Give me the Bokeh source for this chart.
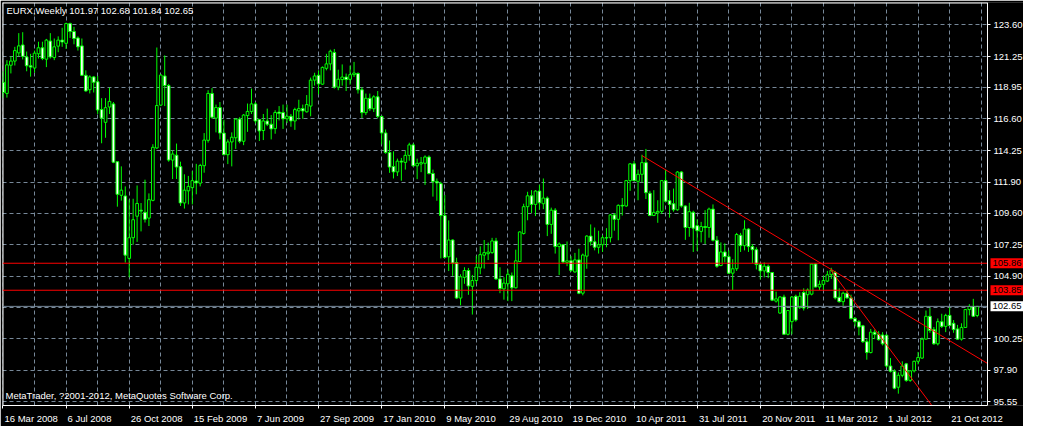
from bokeh.plotting import figure
from bokeh.models import (ColumnDataSource, Range1d, FixedTicker, Label, BoxAnnotation,
                          NumeralTickFormatter)
from bokeh.embed import file_html
from bokeh.resources import INLINE

# ---------------- data ----------------
title_text = "EURX,Weekly  101.97 102.68 101.84 102.65"
copyright_text = "MetaTrader, ?2001-2012, MetaQuotes Software Corp."

# weekly candles, first bar = 16 Mar 2008
opens = [119.33,118.50,120.60,120.91,121.52,122.11,121.22,120.56,120.39,121.45,
         121.90,121.05,122.40,121.17,122.02,122.47,122.23,123.70,123.11,122.63,
         122.04,119.85,118.78,119.73,119.37,117.30,116.35,117.49,117.72,113.42,
         110.92,110.87,106.22,107.76,109.36,109.81,109.65,109.22,110.54,114.44,
         117.63,119.80,119.09,113.54,113.90,113.05,110.35,111.25,111.49,111.98,
         111.82,113.12,115.01,118.50,116.66,117.45,115.55,113.94,114.89,115.20,
         116.59,114.94,116.85,117.16,117.72,116.56,115.74,116.45,116.21,115.88,
         117.11,117.08,116.61,116.80,116.45,117.20,117.37,117.13,117.56,119.49,
         119.85,119.19,120.37,120.70,121.55,118.97,119.53,119.72,119.55,119.90,
         119.98,118.77,117.07,118.14,117.36,118.25,116.79,115.56,114.10,113.06,
         112.66,113.46,113.37,113.89,114.67,113.11,113.25,113.30,113.77,112.54,
         111.95,111.79,109.41,106.34,107.59,105.91,103.27,104.81,105.32,104.14,
         104.57,105.51,106.46,106.57,106.65,107.52,104.69,103.95,104.33,104.93,
         104.03,105.99,108.07,110.07,110.88,110.24,111.23,110.29,110.71,108.75,
         109.81,107.10,107.24,105.92,106.04,105.21,106.11,103.63,106.39,107.88,
         107.46,107.05,107.24,107.76,107.76,109.46,109.13,110.17,110.12,112.01,
         113.26,111.96,112.48,113.35,111.07,109.41,109.60,109.72,112.01,110.52,
         110.29,109.84,112.65,110.12,108.52,109.65,108.66,108.23,108.59,108.52,
         109.89,107.57,105.69,106.70,106.35,105.12,105.45,107.94,107.17,108.40,
         107.10,106.87,105.76,105.29,105.64,105.17,103.04,102.15,103.35,100.57,
         101.51,103.40,102.57,103.68,103.52,103.56,105.80,104.09,104.29,104.53,
         105.00,105.17,103.33,103.00,103.63,103.28,101.75,101.51,101.20,100.02,
         99.21,100.73,100.57,100.52,100.50,98.21,97.82,96.63,97.52,98.37,
         97.14,97.85,98.56,98.80,100.21,101.91,100.92,99.86,101.51,101.16,
         101.98,101.39,100.97,100.21,101.08,102.41,102.64,101.97]
highs = [120.15,120.98,121.26,121.97,122.99,123.06,121.62,121.45,121.69,122.35,
         122.35,122.56,122.99,122.59,122.75,123.39,123.77,123.77,123.46,122.75,
         122.59,120.22,119.85,119.80,119.80,118.15,118.15,118.93,117.86,113.42,
         113.07,111.58,110.59,110.66,111.65,110.34,112.08,111.06,114.72,121.92,
         119.92,121.33,119.21,114.25,114.77,113.42,112.48,112.36,112.72,113.26,
         113.26,115.55,118.74,118.90,117.67,117.86,116.54,115.08,115.60,116.66,
         116.73,116.97,117.75,118.86,117.86,116.61,116.97,117.37,116.89,117.25,
         117.56,117.67,117.67,116.97,117.44,118.03,117.67,118.38,119.68,120.04,
         120.22,120.51,121.45,121.76,121.81,120.27,120.66,119.98,120.57,120.85,
         120.07,118.96,118.49,118.49,118.37,118.68,116.84,115.82,115.00,114.19,
         113.65,113.70,114.24,114.83,114.78,113.65,113.77,113.89,113.89,112.83,
         112.17,111.93,110.94,109.05,107.64,106.27,105.04,105.56,105.51,104.99,
         106.41,107.12,107.59,107.40,107.75,107.75,105.56,104.82,105.40,105.17,
         106.87,108.23,110.29,111.18,111.30,111.30,111.70,112.17,110.83,110.00,
         109.96,107.41,107.29,107.48,106.39,106.63,106.94,106.58,107.95,108.75,
         108.52,108.28,107.95,108.47,109.53,109.60,110.24,110.71,112.06,113.31,
         113.47,112.83,113.94,114.37,111.25,111.30,110.55,112.06,112.83,111.30,
         111.42,112.72,112.72,110.17,110.36,109.77,109.13,108.94,109.81,110.00,
         110.24,107.88,107.41,107.34,106.82,106.16,108.12,108.12,109.06,108.47,
         107.29,107.05,105.83,105.92,105.76,105.21,103.75,103.40,103.52,102.38,
         103.40,103.52,103.70,103.99,103.99,105.83,105.87,104.57,104.93,105.29,
         105.52,105.29,103.99,103.75,103.87,103.52,101.86,101.63,101.27,100.21,
         100.97,100.92,100.80,100.73,100.57,98.80,97.97,97.73,98.56,98.44,
         97.90,98.61,99.26,100.33,102.34,102.53,101.11,101.75,102.10,102.10,
         102.57,101.63,101.27,101.39,102.45,102.81,103.21,102.68]
lows = [118.19,118.19,119.99,120.58,121.26,121.03,120.15,119.75,120.04,121.10,
        120.98,120.46,121.10,120.98,121.57,121.97,121.81,122.63,122.16,121.69,
        119.80,118.62,118.50,118.57,116.97,114.79,115.20,116.97,113.31,110.07,
        110.52,105.91,104.81,107.24,107.45,108.23,108.89,108.63,110.47,114.37,
        117.56,117.56,113.42,112.13,112.13,110.12,109.93,110.24,110.24,110.99,
        111.58,112.60,114.84,116.61,115.60,115.08,113.90,113.24,113.07,114.37,
        114.79,114.65,115.64,116.97,116.26,114.96,115.03,116.07,115.08,115.50,
        116.49,115.86,116.30,116.02,115.79,116.56,116.61,117.08,116.80,119.09,
        118.43,119.14,120.22,120.22,118.86,118.74,119.08,118.68,119.15,119.72,
        118.49,116.67,116.89,117.19,117.12,116.65,114.71,114.01,112.59,112.17,
        112.35,112.00,112.83,113.49,113.06,112.12,112.64,111.69,112.47,110.82,
        110.51,106.22,106.22,105.28,104.92,103.20,102.73,104.33,103.51,102.04,
        104.33,105.04,105.46,106.10,106.57,104.62,103.63,103.15,103.04,103.04,
        103.99,105.95,108.00,109.06,109.60,109.37,109.84,109.89,107.88,108.05,
        106.58,104.98,105.87,105.64,105.22,105.17,103.56,103.47,105.45,107.17,
        106.82,106.58,106.70,107.05,107.41,108.28,107.57,109.41,110.07,111.25,
        111.96,110.55,111.89,110.64,109.37,109.37,108.87,109.53,110.43,109.25,
        109.70,109.77,110.00,107.60,107.83,106.70,106.77,107.41,107.29,107.76,
        107.48,105.52,105.64,105.92,105.05,103.87,105.29,106.70,106.82,106.70,
        105.87,105.40,104.65,104.81,104.75,103.04,102.93,102.10,100.52,100.49,
        100.57,101.51,102.45,102.34,102.45,103.47,104.06,103.87,103.87,104.46,
        104.69,103.16,102.93,102.69,103.21,101.67,101.16,100.49,99.93,98.68,
        99.15,100.21,100.10,99.74,98.09,97.73,96.48,96.15,97.37,97.03,
        97.03,97.73,98.33,98.75,100.17,100.68,99.79,99.74,101.04,100.73,
        101.16,100.68,100.17,100.10,101.04,101.98,101.86,101.84]
closes = [118.57,120.63,120.91,121.69,122.04,121.26,120.56,120.46,121.50,121.90,
          121.10,122.47,121.22,121.97,122.47,122.33,123.70,123.11,122.59,121.97,
          119.85,118.69,119.73,119.33,117.27,116.66,117.44,117.91,113.38,110.99,
          111.30,106.46,107.76,109.10,110.31,109.74,109.13,110.59,114.49,117.60,
          119.87,119.09,113.54,113.99,113.02,110.35,111.30,111.58,112.01,111.84,
          113.14,115.03,118.50,116.73,117.45,115.55,113.94,114.89,115.24,116.59,
          114.94,116.89,117.16,117.72,116.45,115.71,116.45,116.21,115.86,117.08,
          117.01,116.61,116.80,116.45,117.30,117.37,117.20,117.67,119.49,119.80,
          119.21,120.44,120.70,121.64,118.97,119.56,119.72,119.53,119.90,120.02,
          118.77,117.07,118.14,117.36,118.25,116.79,115.56,114.10,113.02,112.66,
          113.46,113.39,113.89,114.67,113.11,113.30,113.35,113.77,112.54,111.95,
          111.84,109.41,106.29,107.59,105.87,103.27,104.85,105.32,104.17,104.57,
          105.56,106.50,106.65,106.69,107.52,104.69,103.98,104.38,105.04,104.03,
          106.04,108.19,110.07,110.88,110.24,111.23,110.36,110.71,108.75,109.81,
          107.10,107.29,105.95,106.04,105.33,106.11,103.63,106.47,107.88,107.46,
          107.05,107.24,107.76,107.74,109.46,109.13,110.17,110.12,112.01,113.26,
          112.01,112.48,113.35,111.11,109.41,109.65,109.72,112.01,110.48,110.24,
          109.84,112.65,110.12,108.52,109.70,108.47,108.28,108.59,108.52,109.89,
          107.57,105.64,106.70,106.35,105.12,105.45,108.00,107.17,108.40,107.10,
          106.87,105.76,105.29,105.64,105.17,103.11,103.21,103.35,100.57,102.34,
          103.35,101.63,103.40,102.52,103.87,105.80,104.09,104.29,104.57,105.00,
          105.33,103.28,103.00,103.63,103.28,101.75,101.51,101.11,100.02,99.21,
          100.73,100.57,100.17,99.86,98.21,97.82,96.55,97.52,98.21,97.14,
          97.85,98.56,98.85,100.21,101.91,100.85,99.86,101.51,101.16,101.98,
          101.23,100.92,100.21,101.08,102.41,102.64,101.91,102.65]

date_labels = ["16 Mar 2008", "6 Jul 2008", "26 Oct 2008", "15 Feb 2009", "7 Jun 2009",
               "27 Sep 2009", "17 Jan 2010", "9 May 2010", "29 Aug 2010", "19 Dec 2010",
               "10 Apr 2011", "31 Jul 2011", "20 Nov 2011", "11 Mar 2012", "1 Jul 2012",
               "21 Oct 2012"]
date_label_bars = [0, 16, 32, 48, 64, 80, 96, 112, 128, 144, 160, 176, 192, 208, 224, 240]
price_ticks = [95.55, 97.90, 100.25, 104.90, 107.25, 109.60, 111.90, 114.25, 116.60,
               118.95, 121.25, 123.60]
hidden_grid_price = [102.575]

current_price = 102.65
hline_prices = [105.86, 103.85]
trend1_bar = [162, 249.6]
trend1_price = [113.87, 98.40]
trend2_bar = [209.9, 240.0]
trend2_price = [105.33, 93.50]

# ---------------- figure ----------------
BG = "#000000"
CANDLE = "#00ff00"
GRID = "#778899"
FONT = "Liberation Sans"
FS = "9.5px"

W, H = 1023, 426
ML, MT, MB = 2, 2, 17
AXIS_W = 36                      # px reserved right of the price axis line
CHART_W = W - ML - AXIS_W        # px of the candle area
x0, axis_x = -0.125, 249.6
ppu = CHART_W / (axis_x - x0)
x_end = axis_x + AXIS_W / ppu
y0, y1 = 95.27, 125.27

p = figure(width=W, height=H, output_backend="svg", toolbar_location=None,
           x_range=Range1d(x0, x_end), y_range=Range1d(y0, y1),
           y_axis_location="right", x_axis_location="below",
           background_fill_color=BG, border_fill_color=BG,
           min_border_left=ML, min_border_top=MT, min_border_right=0, min_border_bottom=MB)
p.outline_line_color = None

# grids
p.xgrid.ticker = FixedTicker(ticks=list(range(0, 250, 8)))
p.ygrid.ticker = FixedTicker(ticks=price_ticks + hidden_grid_price)
for g in (p.xgrid, p.ygrid):
    g.grid_line_color = GRID
    g.grid_line_dash = "4 3"
    g.grid_line_width = 1

# black panel behind the price scale (hides grid lines there)
p.add_layout(BoxAnnotation(left=axis_x, fill_color=BG, fill_alpha=1.0,
                           line_color=None, level="underlay"))

# y axis (price scale) fixed at the right edge of the candle area
ya = p.yaxis[0]
ya.fixed_location = axis_x
ya.ticker = FixedTicker(ticks=price_ticks)
ya.formatter = NumeralTickFormatter(format="0.00")
ya.axis_line_color = "white"
ya.major_tick_line_color = "white"
ya.major_tick_in = 0
ya.major_tick_out = 3
ya.minor_tick_line_color = None
ya.major_label_text_color = "white"
ya.major_label_text_font = FONT
ya.major_label_text_font_size = FS
ya.major_label_standoff = 3

# x axis (below) -- labels left-aligned at the tick like MetaTrader
CW = {**{d: 0.556 for d in "0123456789"}, " ": 0.278, "M": 0.833, "J": 0.5, "F": 0.611,
      "S": 0.667, "D": 0.722, "N": 0.722, "A": 0.667, "O": 0.778,
      "a": 0.556, "r": 0.333, "u": 0.556, "n": 0.556, "l": 0.222, "e": 0.556, "b": 0.556,
      "p": 0.556, "c": 0.5, "t": 0.278, "o": 0.556, "v": 0.5, "g": 0.556, "y": 0.5}
fs_px = 9.5
centers = []
overrides = {}
for b, lab in zip(date_label_bars, date_labels):
    w = sum(CW.get(ch, 0.55) for ch in lab) * fs_px
    c = round(b + (w / 2 + 1.5) / ppu, 3)
    centers.append(c)
    overrides[c] = lab

xa = p.xaxis[0]
xa.bounds = (x0, axis_x)
xa.ticker = FixedTicker(ticks=centers, minor_ticks=date_label_bars)
xa.major_label_overrides = overrides
xa.axis_line_color = "white"
xa.major_tick_in = 0
xa.major_tick_out = 0
xa.major_tick_line_color = None
xa.minor_tick_in = 0
xa.minor_tick_out = 3
xa.minor_tick_line_color = "white"
xa.major_label_text_color = "white"
xa.major_label_text_font = FONT
xa.major_label_text_font_size = FS
xa.major_label_standoff = 4

# chart frame: top and left white border lines (half of a 2px line is clipped)
p.segment(x0=[x0, x0], y0=[y1, y0], x1=[axis_x, x0], y1=[y1, y1],
          line_color="white", line_width=2)

# ---------------- candles ----------------
bars = list(range(len(opens)))
tops = [max(o, c) for o, c in zip(opens, closes)]
bots = [min(o, c) for o, c in zip(opens, closes)]
fills = ["#ffffff" if c < o else "#000000" for o, c in zip(opens, closes)]
src = ColumnDataSource(dict(x=bars, o=opens, h=highs, l=lows, c=closes,
                            top=tops, bot=bots, fill=fills))
p.segment(x0="x", y0="l", x1="x", y1="h", source=src, line_color=CANDLE, line_width=1)
p.vbar(x="x", width=0.68, top="top", bottom="bot", source=src,
       fill_color="fill", line_color=CANDLE, line_width=1)

# ---------------- horizontal lines & trend lines ----------------
p.segment(x0=[x0], y0=[current_price], x1=[axis_x], y1=[current_price],
          line_color=GRID, line_width=1)
p.segment(x0=[x0] * len(hline_prices), y0=hline_prices,
          x1=[axis_x] * len(hline_prices), y1=hline_prices,
          line_color="#ff0000", line_width=1)
p.line(trend1_bar, trend1_price, line_color="#ff0000", line_width=1)
p.line(trend2_bar, trend2_price, line_color="#ff0000", line_width=1)

# ---------------- price boxes on the right scale ----------------
for hp in hline_prices:
    p.add_layout(Label(x=axis_x, y=hp, x_offset=3, text=f"{hp:.2f}", text_align="left",
                       text_baseline="middle", text_color="#000000", text_font=FONT,
                       text_font_size=FS, background_fill_color="#ff0000",
                       padding=2))
p.add_layout(Label(x=axis_x, y=current_price, x_offset=3, text=f"{current_price:.2f}",
                   text_align="left", text_baseline="middle", text_color="#000000",
                   text_font=FONT, text_font_size=FS, background_fill_color="#ffffff",
                   padding=2))

# ---------------- texts ----------------
p.add_layout(Label(x=4, x_units="screen", y=124.67, text=title_text, text_align="left",
                   text_baseline="middle", text_color="white", text_font=FONT,
                   text_font_size=FS))
p.add_layout(Label(x=3, x_units="screen", y=96.0, text=copyright_text, text_align="left",
                   text_baseline="middle", text_color="white", text_font=FONT,
                   text_font_size=FS))

html = file_html(p, INLINE, title="EURX Weekly")
html = html.replace("<body>", '<body style="background-color:#000000;">', 1)
open("out.html", "w").write(html)
